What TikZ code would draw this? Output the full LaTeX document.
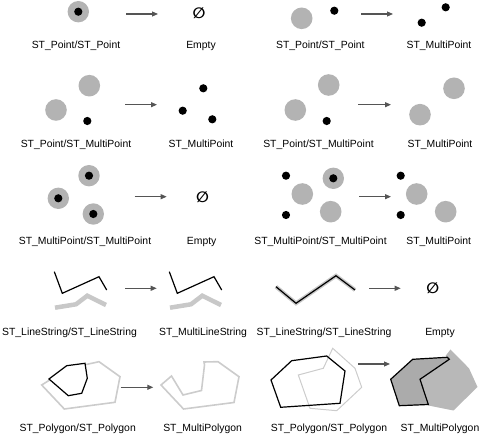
\documentclass[tikz,border=0pt]{standalone}
\usepackage{fontspec}
\setmainfont{Liberation Sans}
\newfontfamily\symfont{DejaVu Sans}
\usetikzlibrary{arrows.meta}
\definecolor{cgray}{HTML}{B3B3B3}
\definecolor{lgray}{HTML}{C8C8C8}
\definecolor{pgray}{HTML}{CCCCCC}
\definecolor{fillA}{HTML}{ABABAB}
\definecolor{fillB}{HTML}{B8B8B8}
\definecolor{arrowc}{HTML}{555555}
\newcommand\gdisc[1]{\fill[cgray] #1 circle[radius=10.8pt];}
\newcommand\bdot[1]{\fill[black] #1 circle[radius=4.1pt];}
\newcommand\ringdot[1]{\fill[cgray] #1 circle[radius=10.7pt];\fill[black] #1 circle[radius=4.1pt];}
\begin{document}
\begin{tikzpicture}[x=1pt,y=-1pt,
  lbl/.style={font=\fontsize{10.4}{12}\selectfont, inner sep=0pt, anchor=base},
  emptyset/.style={font=\symfont\bfseries\fontsize{15}{18}\selectfont, inner sep=0pt},
  arr/.style={draw=arrowc, line width=1.1pt, -{Triangle[length=6pt,width=5pt]}},
  thickgray/.style={draw=lgray, line width=4.5pt},
  halo/.style={draw=lgray, line width=4pt},
  blackline/.style={draw=black, line width=1.2pt},
  ]
\useasboundingbox (0,0) rectangle (480,435);

% ---------- Row 1 ----------
\ringdot{(78.3,11.7)}
\coordinate (a1s) at (126,14); \coordinate (a1e) at (158,14);
\draw[arr] (a1s) -- (a1e);
\node[emptyset] (e1) at (199,13.3) {∅};
\node[lbl] (l1a) at (76,48.5) {ST\_Point/ST\_Point};
\node[lbl] (l1b) at (201,48.5) {Empty};

\gdisc{(301.7,18.3)} \bdot{(334.3,10.7)}
\coordinate (a2s) at (361,14); \coordinate (a2e) at (393,14);
\draw[arr] (a2s) -- (a2e);
\bdot{(421.7,22.7)} \bdot{(445.7,7.3)}
\node[lbl] (l2a) at (320.3,48.5) {ST\_Point/ST\_Point};
\node[lbl] (l2b) at (439,48.5) {ST\_MultiPoint};

% ---------- Row 2 ----------
\gdisc{(89.3,85.7)} \gdisc{(56,110)} \bdot{(87.3,121)}
\coordinate (a3s) at (125,104.7); \coordinate (a3e) at (157,104.7);
\draw[arr] (a3s) -- (a3e);
\bdot{(203.3,88.3)} \bdot{(182.7,110.7)} \bdot{(212.3,119.3)}
\node[lbl] (l3a) at (76,147.5) {ST\_Point/ST\_MultiPoint};
\node[lbl] (l3b) at (201,147.5) {ST\_MultiPoint};

\gdisc{(328.7,85)} \gdisc{(295.3,110)} \bdot{(326.7,121)}
\coordinate (a4s) at (358.3,104.7); \coordinate (a4e) at (391,104.7);
\draw[arr] (a4s) -- (a4e);
\gdisc{(454,88.3)} \gdisc{(420,114.7)}
\node[lbl] (l4a) at (318.5,147.5) {ST\_Point/ST\_MultiPoint};
\node[lbl] (l4b) at (440,147.5) {ST\_MultiPoint};

% ---------- Row 3 ----------
\ringdot{(89,175.7)} \ringdot{(58.3,198.3)} \ringdot{(93.3,214)}
\coordinate (a5s) at (134.7,196.7); \coordinate (a5e) at (166.7,196.7);
\draw[arr] (a5s) -- (a5e);
\node[emptyset] (e2) at (202.5,197) {∅};
\node[lbl] (l5a) at (85,244.5) {ST\_MultiPoint/ST\_MultiPoint};
\node[lbl] (l5b) at (201.7,244.5) {Empty};

\bdot{(286,175.7)} \bdot{(286,215)}
\ringdot{(333.3,178.3)}
\gdisc{(302.3,194)} \gdisc{(330.7,211.7)}
\coordinate (a6s) at (359,196.7); \coordinate (a6e) at (391,196.7);
\draw[arr] (a6s) -- (a6e);
\bdot{(400.7,175.7)} \bdot{(400.7,215)}
\gdisc{(416.7,194)} \gdisc{(445.7,211.7)}
\node[lbl] (l6a) at (320.5,244.5) {ST\_MultiPoint/ST\_MultiPoint};
\node[lbl] (l6b) at (438.7,244.5) {ST\_MultiPoint};

% ---------- Row 4 ----------
\draw[thickgray] (55,307.7) -- (76,304.3) -- (87.3,295.7) -- (106,305);
\draw[blackline] (54.3,271.7) -- (62.3,293.3) -- (99,276.7) -- (106.7,290);
\coordinate (a7s) at (125,288.3); \coordinate (a7e) at (156.7,288.3);
\draw[arr] (a7s) -- (a7e);
\begin{scope}[xshift=115pt]
\draw[thickgray] (55,307.7) -- (76,304.3) -- (87.3,295.7) -- (106,305);
\draw[blackline] (54.3,271.7) -- (62.3,293.3) -- (99,276.7) -- (106.7,290);
\end{scope}
\node[lbl] (l7a) at (69.5,335.5) {ST\_LineString/ST\_LineString};
\node[lbl] (l7b) at (203,335.5) {ST\_MultiLineString};

\draw[halo] (276,286.7) -- (296,303.3) -- (336,275.7) -- (355,290);
\draw[blackline] (276,286.7) -- (296,303.3) -- (336,275.7) -- (355,290);
\coordinate (a8s) at (369,288.3); \coordinate (a8e) at (400.7,288.3);
\draw[arr] (a8s) -- (a8e);
\node[emptyset] (e3) at (432.8,288.3) {∅};
\node[lbl] (l8a) at (324,335.5) {ST\_LineString/ST\_LineString};
\node[lbl] (l8b) at (440,335.5) {Empty};

% ---------- Row 5 ----------
\draw[pgray, line width=1.6pt] (41.7,385) -- (56,376) -- (80,370) -- (84,365) -- (99,361.7) -- (120,376.7) -- (115,402.3) -- (64.3,409) -- cycle;
\draw[black, fill=white, line width=1.2pt] (49,379) -- (66.7,365.7) -- (85,363.3) -- (87.3,378.3) -- (81.7,393.3) -- (68.3,395.7) -- cycle;
\coordinate (a9s) at (120.7,387.3); \coordinate (a9e) at (153.3,387.3);
\draw[arr] (a9s) -- (a9e);
\draw[pgray, line width=1.6pt] (161,385) -- (171.5,376) -- (183,395) -- (201.5,390.5) -- (204.5,365) -- (204,362) -- (218,361.7) -- (239,376.7) -- (234,402.5) -- (183.5,409) -- cycle;
\node[lbl] (l9a) at (77.7,432) {ST\_Polygon/ST\_Polygon};
\node[lbl] (l9b) at (202.6,432) {ST\_MultiPolygon};

\draw[pgray, line width=1pt] (298.3,375) -- (323.3,368.3) -- (332.7,348.3) -- (355,368.3) -- (361.7,387.3) -- (336.7,410.7) -- (310,408.3) -- cycle;
\draw[black, line width=1.2pt] (271,380) -- (291.7,360.7) -- (326.7,356) -- (345,371) -- (340,403.3) -- (280.7,407.3) -- cycle;
\coordinate (a10s) at (358.3,364); \coordinate (a10e) at (390,364);
\draw[arr] (a10s) -- (a10e);
\fill[fillB] (445.5,356) -- (450.5,349.5) -- (469,368.3) -- (477.5,387) -- (453.5,410.5) -- (428.3,405.5) -- (420,379.3) -- (449.3,359.3) -- cycle;
\draw[black, fill=fillA, line width=1.2pt] (390.7,379.3) -- (412.7,359.3) -- (447.3,357.3) -- (449.3,359.3) -- (420,379.3) -- (428.3,404.5) -- (399.3,405.7) -- cycle;
\node[lbl] (l10a) at (329,432) {ST\_Polygon/ST\_Polygon};
\node[lbl] (l10b) at (440,432) {ST\_MultiPolygon};
\end{tikzpicture}
\end{document}
